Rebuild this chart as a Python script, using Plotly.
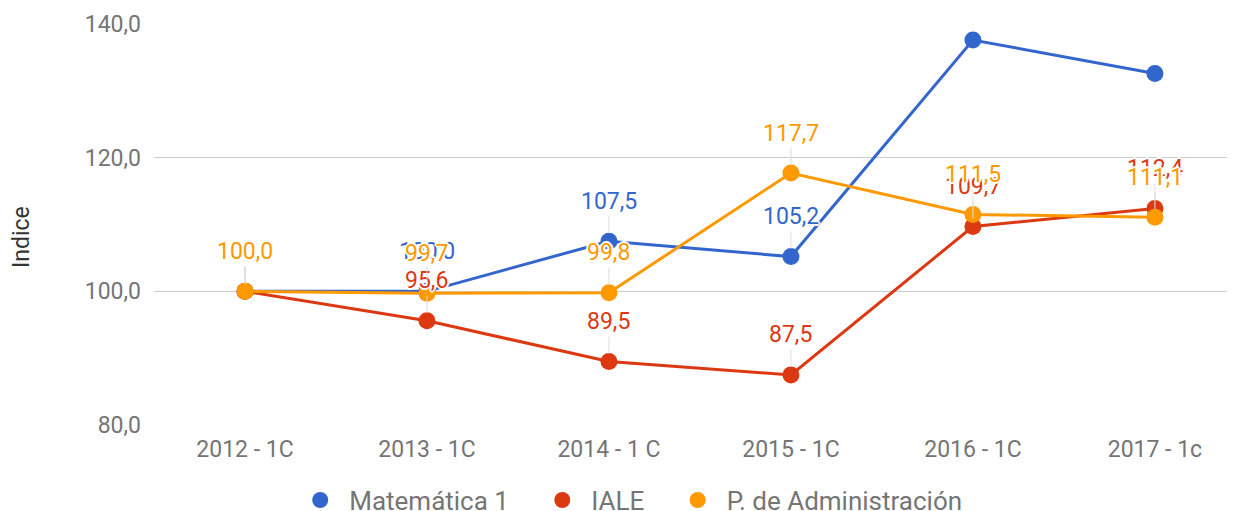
import plotly.graph_objects as go

categories = ["2012 - 1C", "2013 - 1C", "2014 - 1 C", "2015 - 1C", "2016 - 1C", "2017 - 1c"]
matematica = [100.0, 100.0, 107.5, 105.2, 137.6, 132.6]
iale = [100.0, 95.6, 89.5, 87.5, 109.7, 112.4]
administracion = [100.0, 99.7, 99.8, 117.7, 111.5, 111.1]
y_ticks = [80, 100, 120, 140]

series = [
    ("Matemática 1", matematica, "#3366CC"),
    ("IALE", iale, "#DC3912"),
    ("P. de Administración", administracion, "#FF9900"),
]

FONT = "Roboto"
FS = 23
fig = go.Figure()
halo = "-1px -1px 0 #fff, 1px -1px 0 #fff, -1px 1px 0 #fff, 1px 1px 0 #fff, 0 2px 0 #fff, 0 -2px 0 #fff, 2px 0 0 #fff, -2px 0 0 #fff"
annotations = []
for name, vals, color in series:
    fig.add_trace(go.Scatter(
        x=list(range(len(categories))), y=vals, name=name, mode="lines+markers",
        line=dict(color=color, width=3),
        marker=dict(color=color, size=17),
        showlegend=False,
    ))
    for i, v in enumerate(vals):
        if v > 130:
            continue
        annotations.append(dict(
            x=i, y=v, xref="x", yref="y", text=f"{v:.1f}".replace(".", ","),
            showarrow=True, arrowhead=0, arrowwidth=1, arrowcolor="#dddddd",
            ax=0, ay=-40, standoff=8,
            font=dict(family=FONT, size=FS, color=color, shadow=halo),
        ))
for k, (name, vals, color) in enumerate(series):
    pad = "" if k == len(series) - 1 else "\u00a0\u00a0\u00a0"
    fig.add_trace(go.Scatter(
        x=[None], y=[None], name=name + pad, mode="markers",
        marker=dict(color=color, size=22),
    ))

annotations.append(dict(
    text="Indice", xref="paper", yref="paper", x=-0.1212, y=0.469,
    xanchor="center", yanchor="middle", textangle=-90, showarrow=False,
    font=dict(family=FONT, size=23, color="#333333"),
))

fig.update_layout(
    width=1235, height=511,
    margin=dict(l=146, r=0, t=16, b=94, autoexpand=False),
    paper_bgcolor="white", plot_bgcolor="white",
    separators=",.",
    font=dict(family=FONT, size=FS, color="#757575"),
    annotations=annotations,
    showlegend=True,
    legend=dict(orientation="h", xref="container", yref="container", x=0.503, y=0.037,
                xanchor="center", yanchor="middle",
                font=dict(family=FONT, size=26, color="#757575"),
                itemwidth=48, traceorder="normal"),
)
fig.update_xaxes(
    tickmode="array", tickvals=list(range(len(categories))), ticktext=categories,
    range=[-0.5, 5.484], showgrid=False, zeroline=False, showline=False,
    ticks="", ticklabelstandoff=8, automargin=False,
    tickfont=dict(family=FONT, size=FS, color="#757575"),
)
fig.update_yaxes(
    range=[80, 140], tickvals=y_ticks, tickformat=".1f",
    showgrid=True, gridcolor="#cccccc", gridwidth=1, zeroline=False, showline=False,
    ticks="", ticklabelstandoff=12, automargin=False,
    tickfont=dict(family=FONT, size=FS, color="#757575"),
)
fig.write_html("out.html")
